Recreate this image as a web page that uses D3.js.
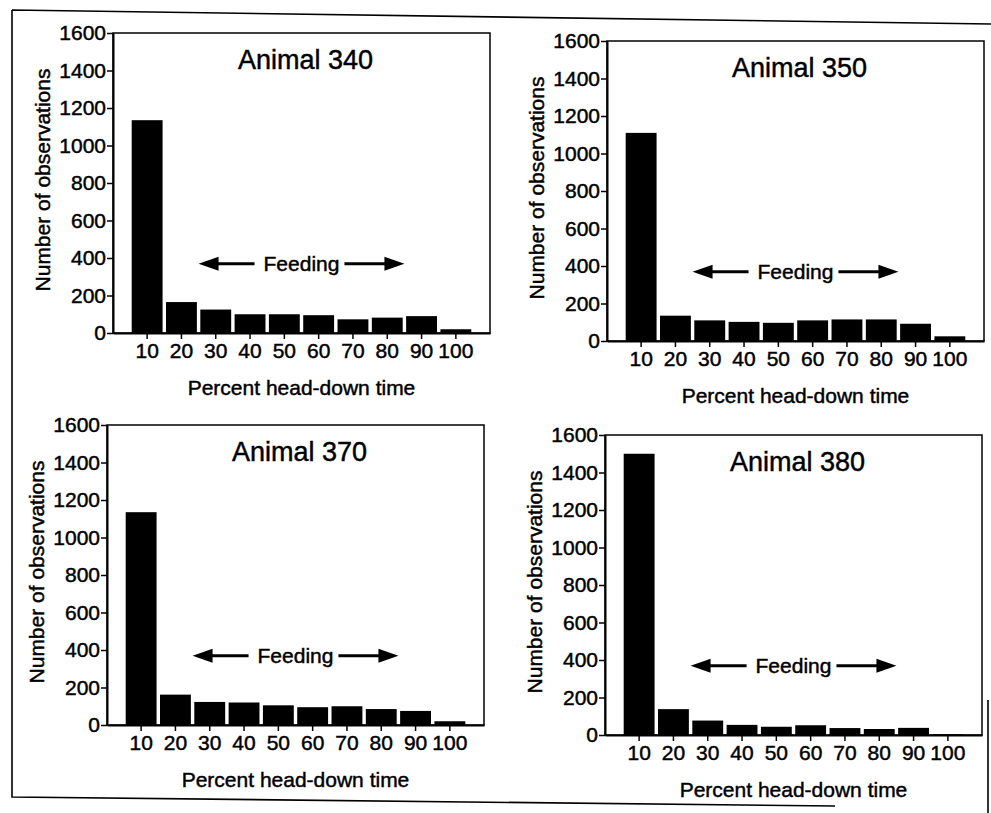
<!DOCTYPE html>
<html>
<head>
<meta charset="utf-8">
<script src="https://cdn.jsdelivr.net/npm/d3@7"></script>
<style>
body { margin: 0; background: #fff; }
svg text { font-family: "Liberation Sans", Arial, Helvetica, sans-serif; fill: #000;
           stroke: #000; stroke-width: 0.45px; }
</style>
</head>
<body>
<div id="chart"></div>
<script>
// percent head-down time classes
var categories = [10, 20, 30, 40, 50, 60, 70, 80, 90, 100];
var yTicks = [0, 200, 400, 600, 800, 1000, 1200, 1400, 1600];
var titles = ["Animal 340", "Animal 350", "Animal 370", "Animal 380"];

// number of observations per class
var animal340 = [1135, 165, 125, 100, 100, 95, 73, 82, 90, 20];
var animal350 = [1110, 135, 110, 102, 97, 110, 115, 115, 92, 25];
var animal370 = [1135, 162, 123, 120, 105, 95, 100, 85, 75, 20];
var animal380 = [1500, 138, 77, 54, 44, 52, 37, 32, 38, 4];
var series = [animal340, animal350, animal370, animal380];

// "Feeding" arrow spans 25..85 % at a height of ~370 observations
var feedingRange = [25, 85];
var feedingLevel = 370;

var cfg = {
    "parent_container": "#chart",
    "width": 991,
    "height": 813,
    "plotW": 377,
    "plotH": 300,
    "origins": [[113, 33], [607, 41], [107, 425], [605, 435]]
};

var svg = d3.select(cfg.parent_container).append("svg")
    .attr("width", cfg.width)
    .attr("height", cfg.height);

svg.append("rect")
    .attr("width", cfg.width)
    .attr("height", cfg.height)
    .attr("fill", "#fff");

// outer frame of the scanned figure (slightly skewed)
svg.append("path")
    .attr("d", "M12,10 L991,24 M12,10 L12,797 L835,806 M988,700 L988,813")
    .attr("fill", "none")
    .attr("stroke", "#000")
    .attr("stroke-width", 1.6);

var x = d3.scaleBand()
    .domain(categories)
    .range([0, cfg.plotW])
    .paddingInner(0.1)
    .paddingOuter(0.545);

var y = d3.scaleLinear()
    .domain([0, 1600])
    .range([cfg.plotH, 0]);

// position of a percent value along the band centres
function xc(v) {
    return x(categories[0]) + x.bandwidth() / 2 + (v - categories[0]) / 10 * x.step();
}

function drawPanel(i) {
    var o = cfg.origins[i];
    var g = svg.append("g")
        .attr("transform", "translate(" + o[0] + "," + o[1] + ")");

    g.selectAll(".bar")
        .data(series[i])
        .enter().append("rect")
        .attr("class", "bar")
        .attr("x", function(d, j) { return x(categories[j]); })
        .attr("y", function(d) { return y(d); })
        .attr("width", x.bandwidth())
        .attr("height", function(d) { return y(0) - y(d); })
        .attr("fill", "#000");

    // box around the plot
    g.append("rect")
        .attr("width", cfg.plotW)
        .attr("height", cfg.plotH)
        .attr("fill", "none")
        .attr("stroke", "#000")
        .attr("stroke-width", 1.5);

    var yAxis = g.append("g")
        .call(d3.axisLeft(y).tickValues(yTicks).tickFormat(d3.format("d"))
              .tickSize(6).tickSizeOuter(0).tickPadding(1));
    yAxis.select(".domain").attr("stroke-width", 2);
    yAxis.selectAll("line").attr("stroke-width", 1.5);
    yAxis.selectAll("text").style("font-size", "21px")
        .style("font-family", "'Liberation Sans', Arial, sans-serif");

    var xAxis = g.append("g")
        .attr("transform", "translate(0," + cfg.plotH + ")")
        .call(d3.axisBottom(x).tickSize(6).tickSizeOuter(0).tickPadding(4));
    xAxis.select(".domain").attr("stroke-width", 2);
    xAxis.selectAll("line").attr("stroke-width", 1.5);
    xAxis.selectAll("text").style("font-size", "21px")
        .style("font-family", "'Liberation Sans', Arial, sans-serif");

    g.append("text")
        .attr("x", cfg.plotW / 2 + 4)
        .attr("y", 36)
        .attr("text-anchor", "middle")
        .style("font-size", "27px")
        .text(titles[i]);

    g.append("text")
        .attr("transform", "rotate(-90)")
        .attr("x", -(cfg.plotH / 2 - 3))
        .attr("y", -63)
        .attr("text-anchor", "middle")
        .style("font-size", "21px")
        .text("Number of observations");

    g.append("text")
        .attr("x", cfg.plotW / 2)
        .attr("y", cfg.plotH + 62)
        .attr("text-anchor", "middle")
        .style("font-size", "21px")
        .text("Percent head-down time");

    // Feeding annotation with double arrow
    var x0 = xc(feedingRange[0]), x1 = xc(feedingRange[1]);
    var ay = y(feedingLevel);
    var label = g.append("text")
        .attr("x", (x0 + x1) / 2)
        .attr("y", ay + 7)
        .attr("text-anchor", "middle")
        .style("font-size", "21px")
        .text("Feeding");
    var tw = label.node().getComputedTextLength();
    var tl = (x0 + x1) / 2 - tw / 2, tr = (x0 + x1) / 2 + tw / 2;
    var head = 20, hh = 7;

    g.append("line")
        .attr("x1", x0 + head - 1).attr("x2", tl - 9)
        .attr("y1", ay).attr("y2", ay)
        .attr("stroke", "#000").attr("stroke-width", 3);
    g.append("line")
        .attr("x1", tr + 5).attr("x2", x1 - head + 1)
        .attr("y1", ay).attr("y2", ay)
        .attr("stroke", "#000").attr("stroke-width", 3);
    g.append("path")
        .attr("d", "M" + x0 + "," + ay + " L" + (x0 + head) + "," + (ay - hh) +
              " L" + (x0 + head) + "," + (ay + hh) + "Z")
        .attr("fill", "#000");
    g.append("path")
        .attr("d", "M" + x1 + "," + ay + " L" + (x1 - head) + "," + (ay - hh) +
              " L" + (x1 - head) + "," + (ay + hh) + "Z")
        .attr("fill", "#000");
}

for (var i = 0; i < series.length; i++) {
    drawPanel(i);
}
</script>
</body>
</html>
